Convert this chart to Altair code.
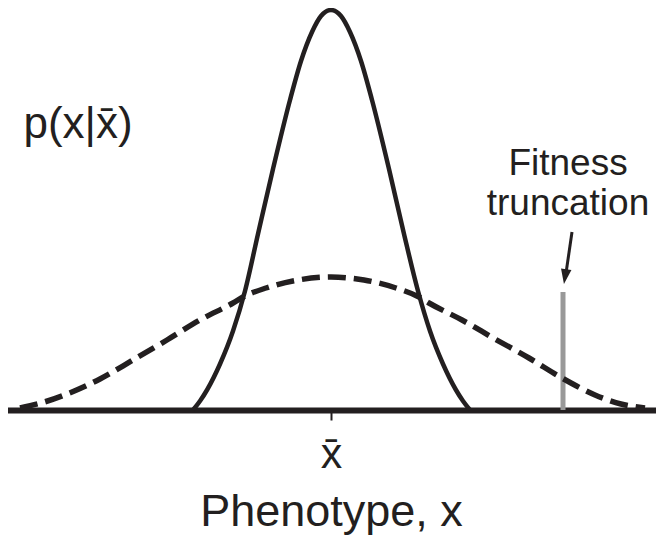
import altair as alt
import pandas as pd

INK = "#231f20"
FONT = "Liberation Sans"

# Narrow (solid) distribution: phenotype offset from mean vs density
solid_x = [-1.38, -1.31, -1.24, -1.11, -0.98, -0.86, -0.73, -0.58, -0.41, -0.30, -0.19, -0.10, 0.0,
           0.10, 0.19, 0.30, 0.41, 0.58, 0.73, 0.87, 0.99, 1.12, 1.25, 1.32, 1.39]
solid_y = [0.0, 0.09, 0.20, 0.46, 0.79, 1.19, 1.76, 2.41, 3.10, 3.49, 3.78, 3.94, 4.00,
           3.94, 3.78, 3.49, 3.10, 2.41, 1.76, 1.19, 0.79, 0.46, 0.20, 0.09, 0.0]

# Wide (dashed) distribution
dash_x = [-3.11, -2.90, -2.64, -2.31, -1.98, -1.64, -1.31, -0.98, -0.86, -0.65, -0.33, 0.0,
          0.33, 0.65, 0.88, 0.98, 1.31, 1.64, 1.98, 2.31, 2.64, 2.90, 3.14]
dash_y = [0.02, 0.07, 0.16, 0.31, 0.50, 0.70, 0.90, 1.07, 1.14, 1.22, 1.30, 1.33,
          1.30, 1.22, 1.13, 1.07, 0.90, 0.71, 0.52, 0.32, 0.15, 0.06, 0.02]

# Fitness truncation bar
trunc_x = [2.32]
trunc_top = [1.18]

# Annotation: label and arrow
label_text = ["Fitness\ntruncation"]
label_x = [2.37]
label_y = [2.35]
arrow_x = [2.41, 2.343]
arrow_y = [1.78, 1.32]
head_x = [2.341]
head_y = [1.334]

tick_values = [0]
x_domain = [-3.23, 3.25]
y_domain = [0, 4.02]

xs = alt.Scale(domain=x_domain, nice=False, zero=False)
ys = alt.Scale(domain=y_domain, nice=False, zero=False)

xaxis = alt.Axis(
    values=tick_values, labelExpr="'x\u0304'", grid=False,
    tickSize=10, tickWidth=2, tickColor=INK,
    domainWidth=6, domainColor=INK, domainCap="square",
    labelFont=FONT, labelFontSize=43, labelColor=INK,
    labelBaseline="alphabetic", labelPadding=47,
    title="Phenotype, x", titleFont=FONT, titleFontSize=45, titleFontWeight="normal",
    titleColor=INK, titleBaseline="alphabetic", titleY=115, titleX=323,
)
yaxis = alt.Axis(
    domain=False, ticks=False, labels=False, grid=False,
    title="p(x|x\u0304)", titleAngle=0, titleAlign="left", titleBaseline="alphabetic",
    titleX=15, titleY=129, titleFont=FONT, titleFontSize=44, titleFontWeight="normal",
    titleColor=INK,
)

X = alt.X("x:Q", scale=xs, axis=xaxis)
Y = alt.Y("y:Q", scale=ys, axis=yaxis)

solid_df = pd.DataFrame({"x": solid_x, "y": solid_y})
dash_df = pd.DataFrame({"x": dash_x, "y": dash_y})
trunc_df = pd.DataFrame({"x": trunc_x, "y": [0.0], "y2": trunc_top})
label_df = pd.DataFrame({"x": label_x, "y": label_y, "t": label_text})
arrow_df = pd.DataFrame({"x": arrow_x, "y": arrow_y})
head_df = pd.DataFrame({"x": head_x, "y": head_y})

bar = alt.Chart(trunc_df).mark_rule(color="#999999", strokeWidth=5).encode(x=X, y=Y, y2="y2:Q")
dashed = alt.Chart(dash_df).mark_line(
    color=INK, strokeWidth=5.5, strokeDash=[18, 8], interpolate="monotone"
).encode(x=X, y=Y, order="x:Q")
solid = alt.Chart(solid_df).mark_line(
    color=INK, strokeWidth=4.5, interpolate="monotone"
).encode(x=X, y=Y, order="x:Q")
shaft = alt.Chart(arrow_df).mark_line(color=INK, strokeWidth=3).encode(x=X, y=Y)
head = alt.Chart(head_df).mark_point(
    shape="M0,1 L-0.7,-1 L0.7,-1 Z", size=225, filled=True, color=INK, opacity=1, angle=8.7
).encode(x=X, y=Y)
label = alt.Chart(label_df).mark_text(
    font=FONT, fontSize=37, lineHeight=40, align="center", baseline="alphabetic",
    color=INK, lineBreak="\n"
).encode(x=X, y=Y, text="t:N")

chart = alt.layer(bar, dashed, solid, shaft, head, label).properties(
    width=648, height=402,
    autosize=alt.AutoSizeParams(type="none"),
    padding={"left": 0, "top": 0, "right": 0, "bottom": 129},
).configure_view(stroke=None)

chart.save("out.html", embed_options={"renderer": "svg", "actions": False})
